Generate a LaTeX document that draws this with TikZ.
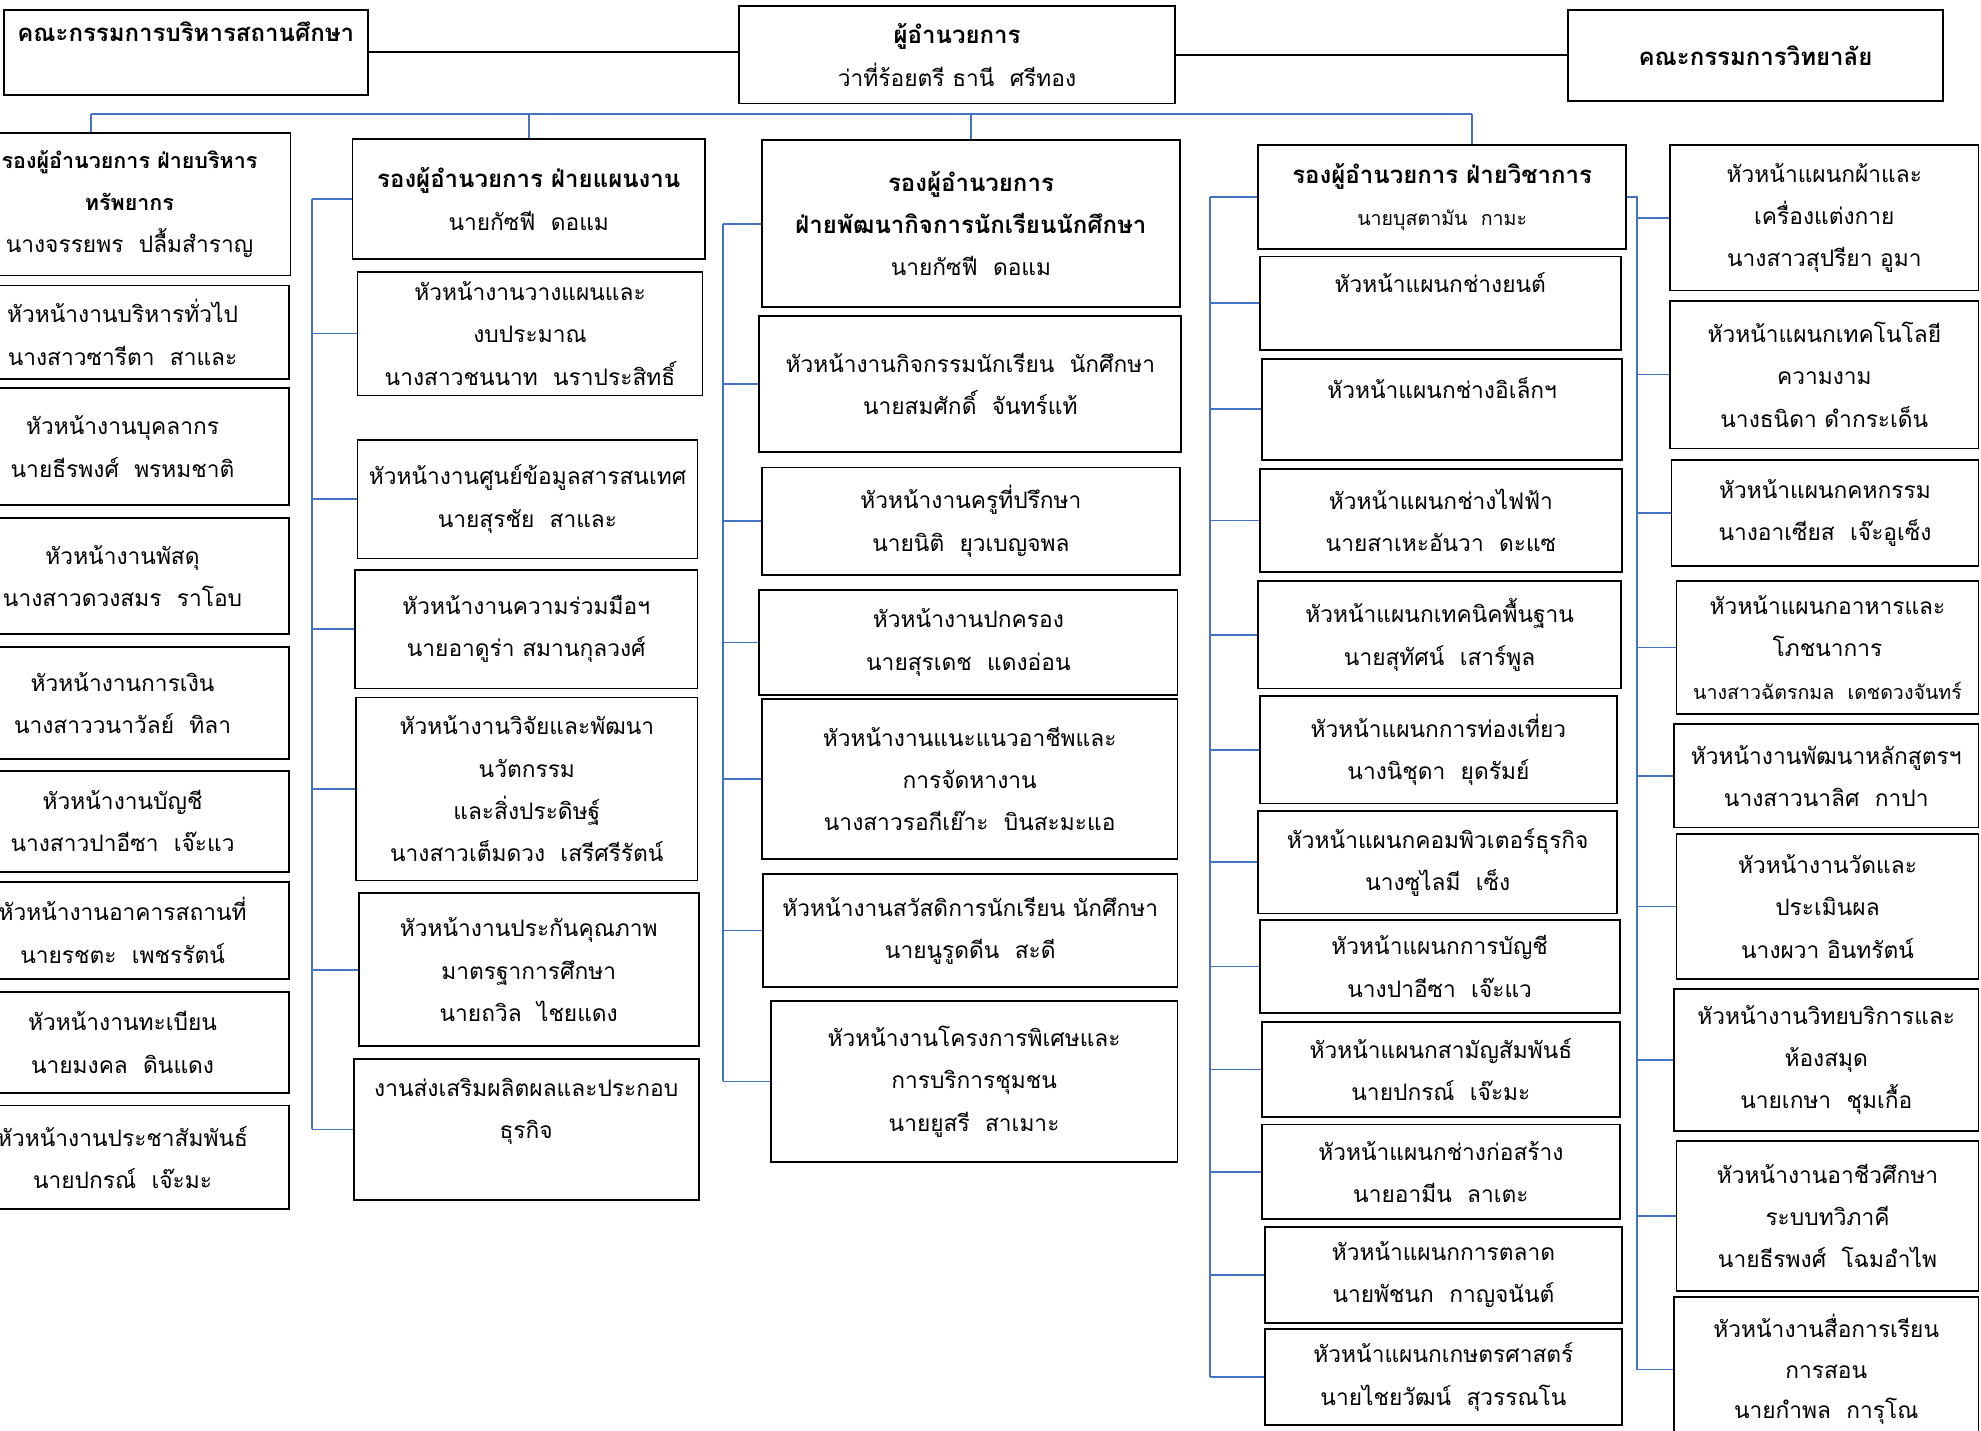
\documentclass[tikz,border=0pt]{standalone}
\usepackage{fontspec}
\setmainfont[Script=Thai]{Loma}
\definecolor{linkblue}{RGB}{68,114,196}

\begin{document}
\begin{tikzpicture}[x=1pt, y=-1pt,
  box/.style = {draw, line width=1.4pt, align=center, inner sep=0pt, font=\fontsize{18}{33.5}\selectfont},
  head/.style = {box, font=\fontsize{19}{33.5}\selectfont\bfseries},
  link/.style = {draw=linkblue, line width=1.4pt},
  rule/.style = {draw, line width=1.5pt}]
	\useasboundingbox (0,0) rectangle (1568,1132);
	% top row
	\node[head, minimum width=288pt, minimum height=67pt] (board) at (147,41.5){คณะกรรมการบริหารสถานศึกษา\\~};
	\node[box, minimum width=345pt, minimum height=77pt] (director) at (757.5,43.5){{\fontsize{19}{33.5}\selectfont\bfseries ผู้อำนวยการ}\\ว่าที่ร้อยตรี ธานี~~ศรีทอง};
	\node[head, minimum width=297pt, minimum height=72pt] (college) at (1389.5,44){คณะกรรมการวิทยาลัย};
	\draw[rule] (board.east) -- (board.east -| director.west);
	\draw[rule] (director.east) -- (director.east -| college.west);
	% heads
	\node[box, minimum width=255pt, minimum height=113pt] (h1) at (102.5,161.5){{\fontsize{17}{30}\selectfont\bfseries รองผู้อำนวยการ ฝ่ายบริหาร}\\{\fontsize{17}{30}\selectfont\bfseries ทรัพยากร}\\นางจรรยพร~~ปลื้มสำราญ};
	\node[box, minimum width=279pt, minimum height=95pt] (h2) at (418.5,157.5){{\fontsize{19}{33.5}\selectfont\bfseries รองผู้อำนวยการ ฝ่ายแผนงาน}\\นายกัซฟี~~ดอแม};
	\node[box, minimum width=331pt, minimum height=132pt] (h3) at (768.5,177){{\fontsize{19}{33.5}\selectfont\bfseries รองผู้อำนวยการ}\\{\fontsize{19}{33.5}\selectfont\bfseries ฝ่ายพัฒนากิจการนักเรียนนักศึกษา}\\นายกัซฟี~~ดอแม};
	\node[box, minimum width=291pt, minimum height=82pt] (h4) at (1141.5,156){{\fontsize{19}{33.5}\selectfont\bfseries รองผู้อำนวยการ ฝ่ายวิชาการ}\\{\fontsize{15.5}{30}\selectfont นายบุสตามัน~~กามะ}};
	\coordinate (busA) at (72,90);
	\coordinate (busB) at (1165,90);
	\draw[link] (busA) -- (busB);
	\draw[link] (busA) -- (busA |- h1.north);
	\draw[link] (h2.north |- busA) -- (h2.north);
	\draw[link] (h3.north |- busA) -- (h3.north);
	\draw[link] (busB) -- (busB |- h4.north);
	% column 1
	\node[box, minimum width=264pt, minimum height=74pt] (c1a) at (97,263){หัวหน้างานบริหารทั่วไป\\นางสาวซารีตา~~สาและ};
	\node[box, minimum width=264pt, minimum height=93pt] (c1b) at (97,353.5){หัวหน้างานบุคลากร\\นายธีรพงศ์~~พรหมชาติ};
	\node[box, minimum width=264pt, minimum height=92pt] (c1c) at (97,456){หัวหน้างานพัสดุ\\นางสาวดวงสมร~~ราโอบ};
	\node[box, minimum width=264pt, minimum height=89pt] (c1d) at (97,556.5){หัวหน้างานการเงิน\\นางสาววนาวัลย์~~ทิลา};
	\node[box, minimum width=264pt, minimum height=80pt] (c1e) at (97,650){หัวหน้างานบัญชี\\นางสาวปาอีซา~~เจ๊ะแว};
	\node[box, minimum width=264pt, minimum height=77pt] (c1f) at (97,736.5){หัวหน้างานอาคารสถานที่\\นายรชตะ~~เพชรรัตน์};
	\node[box, minimum width=264pt, minimum height=80pt] (c1g) at (97,825){หัวหน้างานทะเบียน\\นายมงคล~~ดินแดง};
	\node[box, minimum width=264pt, minimum height=82pt] (c1h) at (97,916){หัวหน้างานประชาสัมพันธ์\\นายปกรณ์~~เจ๊ะมะ};
	% column 2
	\node[box, minimum width=273pt, minimum height=98pt] (c2a) at (419.5,264){หัวหน้างานวางแผนและ\\งบประมาณ\\นางสาวชนนาท~~นราประสิทธิ์};
	\node[box, minimum width=269pt, minimum height=94pt] (c2b) at (417.5,395){หัวหน้างานศูนย์ข้อมูลสารสนเทศ\\นายสุรชัย~~สาและ};
	\node[box, minimum width=271pt, minimum height=94pt] (c2c) at (416.5,498){หัวหน้างานความร่วมมือฯ\\นายอาดูร่า สมานกุลวงศ์};
	\node[box, minimum width=270pt, minimum height=145pt] (c2d) at (417,624.5){หัวหน้างานวิจัยและพัฒนา\\นวัตกรรม\\และสิ่งประดิษฐ์\\นางสาวเต็มดวง~~เสรีศรีรัตน์};
	\node[box, minimum width=269pt, minimum height=121pt] (c2e) at (418.5,767.5){หัวหน้างานประกันคุณภาพ\\มาตรฐาการศึกษา\\นายถวิล~~ไชยแดง};
	\node[box, minimum width=273pt, minimum height=112pt] (c2f) at (416.5,894){งานส่งเสริมผลิตผลและประกอบ\\ธุรกิจ\\~};
	\coordinate (sp2) at (247,0);
	\draw[link] (h2.west -| sp2) -- (c2f.west -| sp2);
	\draw[link] (h2.west -| sp2) -- (h2.west);
	\draw[link] (c2a.west -| sp2) -- (c2a.west);
	\draw[link] (c2b.west -| sp2) -- (c2b.west);
	\draw[link] (c2c.west -| sp2) -- (c2c.west);
	\draw[link] (c2d.west -| sp2) -- (c2d.west);
	\draw[link] (c2e.west -| sp2) -- (c2e.west);
	\draw[link] (c2f.west -| sp2) -- (c2f.west);
	% column 3
	\node[box, minimum width=334pt, minimum height=108pt] (c3a) at (768,304){หัวหน้างานกิจกรรมนักเรียน~~นักศึกษา\\นายสมศักดิ์~~จันทร์แท้};
	\node[box, minimum width=331pt, minimum height=85pt] (c3b) at (768.5,412.5){หัวหน้างานครูที่ปรึกษา\\นายนิติ~~ยุวเบญจพล};
	\node[box, minimum width=331pt, minimum height=83pt] (c3c) at (766.5,508.5){หัวหน้างานปกครอง\\นายสุรเดช~~แดงอ่อน};
	\node[box, minimum width=329pt, minimum height=127pt] (c3d) at (767.5,616.5){หัวหน้างานแนะแนวอาชีพและ\\การจัดหางาน\\นางสาวรอกีเย๊าะ~~บินสะมะแอ};
	\node[box, minimum width=328pt, minimum height=89pt] (c3e) at (768,736.5){หัวหน้างานสวัสดิการนักเรียน นักศึกษา\\นายนูรูดดีน~~สะดี};
	\node[box, minimum width=322pt, minimum height=128pt] (c3f) at (771,856){หัวหน้างานโครงการพิเศษและ\\การบริการชุมชน\\นายยูสรี~~สาเมาะ};
	\coordinate (sp3) at (572,0);
	\draw[link] (h3.west -| sp3) -- (c3f.west -| sp3);
	\draw[link] (h3.west -| sp3) -- (h3.west);
	\draw[link] (c3a.west -| sp3) -- (c3a.west);
	\draw[link] (c3b.west -| sp3) -- (c3b.west);
	\draw[link] (c3c.west -| sp3) -- (c3c.west);
	\draw[link] (c3d.west -| sp3) -- (c3d.west);
	\draw[link] (c3e.west -| sp3) -- (c3e.west);
	\draw[link] (c3f.west -| sp3) -- (c3f.west);
	% column 4
	\node[box, minimum width=286pt, minimum height=74pt] (c4a) at (1140,240){หัวหน้าแผนกช่างยนต์\\~};
	\node[box, minimum width=285pt, minimum height=80pt] (c4b) at (1141.5,324){หัวหน้าแผนกช่างอิเล็กฯ\\~};
	\node[box, minimum width=287pt, minimum height=82pt] (c4c) at (1140.5,412){หัวหน้าแผนกช่างไฟฟ้า\\นายสาเหะอันวา~~ดะแซ};
	\node[box, minimum width=287pt, minimum height=85pt] (c4d) at (1139.5,502.5){หัวหน้าแผนกเทคนิคพื้นฐาน\\นายสุทัศน์~~เสาร์พูล};
	\node[box, minimum width=283pt, minimum height=85pt] (c4e) at (1138.5,593.5){หัวหน้าแผนกการท่องเที่ยว\\นางนิชุดา~~ยุดรัมย์};
	\node[box, minimum width=284pt, minimum height=81pt] (c4f) at (1138,682.5){หัวหน้าแผนกคอมพิวเตอร์ธุรกิจ\\นางซูไลมี~~เซ็ง};
	\node[box, minimum width=285pt, minimum height=74pt] (c4g) at (1139.5,765){หัวหน้าแผนกการบัญชี\\นางปาอีซา~~เจ๊ะแว};
	\node[box, minimum width=283pt, minimum height=75pt] (c4h) at (1140.5,846.5){หัวหน้าแผนกสามัญสัมพันธ์\\นายปกรณ์~~เจ๊ะมะ};
	\node[box, minimum width=283pt, minimum height=75pt] (c4i) at (1140.5,927.5){หัวหน้าแผนกช่างก่อสร้าง\\นายอามีน~~ลาเตะ};
	\node[box, minimum width=283pt, minimum height=76pt] (c4j) at (1142.5,1009){หัวหน้าแผนกการตลาด\\นายพัชนก~~กาญจนันต์};
	\node[box, minimum width=283pt, minimum height=76pt] (c4k) at (1142.5,1090){หัวหน้าแผนกเกษตรศาสตร์\\นายไชยวัฒน์~~สุวรรณโน};
	\coordinate (sp4) at (958,0);
	\draw[link] (h4.west -| sp4) -- (c4k.west -| sp4);
	\draw[link] (h4.west -| sp4) -- (h4.west);
	\draw[link] (c4a.west -| sp4) -- (c4a.west);
	\draw[link] (c4b.west -| sp4) -- (c4b.west);
	\draw[link] (c4c.west -| sp4) -- (c4c.west);
	\draw[link] (c4d.west -| sp4) -- (c4d.west);
	\draw[link] (c4e.west -| sp4) -- (c4e.west);
	\draw[link] (c4f.west -| sp4) -- (c4f.west);
	\draw[link] (c4g.west -| sp4) -- (c4g.west);
	\draw[link] (c4h.west -| sp4) -- (c4h.west);
	\draw[link] (c4i.west -| sp4) -- (c4i.west);
	\draw[link] (c4j.west -| sp4) -- (c4j.west);
	\draw[link] (c4k.west -| sp4) -- (c4k.west);
	% column 5
	\node[box, minimum width=244pt, minimum height=115pt] (c5a) at (1444,172.5){หัวหน้าแผนกผ้าและ\\เครื่องแต่งกาย\\นางสาวสุปรียา อูมา};
	\node[box, minimum width=244pt, minimum height=117pt] (c5b) at (1444,296.5){หัวหน้าแผนกเทคโนโลยี\\ความงาม\\นางธนิดา ดำกระเด็น};
	\node[box, minimum width=243pt, minimum height=84pt] (c5c) at (1444.5,406){หัวหน้าแผนกคหกรรม\\นางอาเซียส~~เจ๊ะอูเซ็ง};
	\node[box, minimum width=239pt, minimum height=105pt] (c5d) at (1446.5,512.5){หัวหน้าแผนกอาหารและ\\โภชนาการ\\{\fontsize{15.5}{30}\selectfont นางสาวฉัตรกมล~~เดชดวงจันทร์}};
	\node[box, minimum width=241pt, minimum height=82pt] (c5e) at (1445.5,614){หัวหน้างานพัฒนาหลักสูตรฯ\\นางสาวนาลิศ~~กาปา};
	\node[box, minimum width=239pt, minimum height=115pt] (c5f) at (1446.5,717.5){หัวหน้างานวัดและ\\ประเมินผล\\นางผวา อินทรัตน์};
	\node[box, minimum width=241pt, minimum height=112pt] (c5g) at (1445.5,839){หัวหน้างานวิทยบริการและ\\ห้องสมุด\\นายเกษา~~ชุมเกื้อ};
	\node[box, minimum width=239pt, minimum height=119pt] (c5h) at (1446.5,962.5){หัวหน้างานอาชีวศึกษา\\ระบบทวิภาคี\\นายธีรพงศ์~~โฉมอำไพ};
	\node[box, minimum width=241pt, minimum height=115pt, font=\fontsize{18}{32}\selectfont] (c5i) at (1445.5,1084){หัวหน้างานสื่อการเรียน\\การสอน\\นายกำพล~~การุโณ};
	\coordinate (sp5) at (1296,0);
	\draw[link] (h4.east) -- (h4.east -| sp5) -- (c5i.west -| sp5);
	\draw[link] (c5a.west -| sp5) -- (c5a.west);
	\draw[link] (c5b.west -| sp5) -- (c5b.west);
	\draw[link] (c5c.west -| sp5) -- (c5c.west);
	\draw[link] (c5d.west -| sp5) -- (c5d.west);
	\draw[link] (c5e.west -| sp5) -- (c5e.west);
	\draw[link] (c5f.west -| sp5) -- (c5f.west);
	\draw[link] (c5g.west -| sp5) -- (c5g.west);
	\draw[link] (c5h.west -| sp5) -- (c5h.west);
	\draw[link] (c5i.west -| sp5) -- (c5i.west);
\end{tikzpicture}
\end{document}
